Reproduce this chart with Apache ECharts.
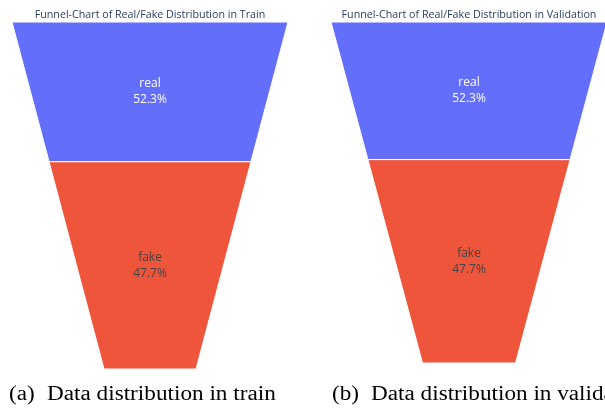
<!DOCTYPE html>
<html>
<head>
<meta charset="utf-8">
<script src="https://cdn.jsdelivr.net/npm/echarts@6/dist/echarts.min.js"></script>
<style>
html,body{margin:0;padding:0;background:#fff;}
#chart{width:605px;height:414px;}
</style>
</head>
<body>
<div id="chart"></div>
<script>
// ---- data ----
const categories = ['real', 'fake'];
const trainValues = [52.3, 47.7];
const validValues = [52.3, 47.7];
const chartTitles = ['Funnel-Chart of Real/Fake Distribution in Train',
                     'Funnel-Chart of Real/Fake Distribution in Validation'];
const captionTags = ['(a)', '(b)'];
const captionTexts = ['Data distribution in train', 'Data distribution in validation'];

// ---- layout / style ----
const colors = ['#636EFA', '#EF553B'];
const labelColors = ['#ffffff', '#444444'];
const geoms = [
  {cx: 150, top: 22, H: 347, W: 276, B: 92},
  {cx: 469, top: 22, H: 341, W: 276, B: 93}
];

// funnel-area geometry: each slice's area proportional to its value
function buildSeries(values, g) {
  const sum = values.reduce((a, b) => a + b, 0);
  const f = values[0] / sum;
  const k = (g.W - g.B) / g.H;
  const A = (g.W + g.B) / 2 * g.H;
  const h1 = (g.W - Math.sqrt(g.W * g.W - 2 * k * f * A)) / k;
  const w1 = g.W - k * h1;
  const r = (w1 - g.B) / (g.W - g.B);
  const vmin = (values[1] - r * values[0]) / (1 - r);
  const heights = [h1, g.H - h1];
  return {
    type: 'funnel',
    left: g.cx - g.W / 2,
    top: g.top,
    width: g.W,
    height: g.H,
    min: vmin,
    max: values[0],
    minSize: g.B,
    maxSize: g.W,
    sort: 'none',
    gap: 0,
    silent: true,
    label: {
      show: true,
      position: 'inside',
      fontFamily: 'Open Sans',
      fontSize: 12,
      lineHeight: 16,
      formatter: p => p.name + '\n' + p.percent.toFixed(1) + '%'
    },
    labelLine: {show: false},
    emphasis: {disabled: true},
    data: categories.map((c, i) => ({
      name: c,
      value: values[i],
      itemStyle: {color: colors[i], borderColor: '#ffffff', borderWidth: 1, height: heights[i]},
      label: {color: labelColors[i]}
    }))
  };
}

const chart = echarts.init(document.getElementById('chart'), null, {renderer: 'canvas'});
const graphics = [];
const capX = [[9, 47], [332, 371]];
const capFont = '20px "Liberation Serif"';
captionTags.forEach((t, i) => {
  graphics.push({type: 'text', x: capX[i][0], y: 395, scaleX: 1.16,
    style: {text: t, font: capFont, fill: '#000', verticalAlign: 'middle'}});
  graphics.push({type: 'text', x: capX[i][1], y: 395, scaleX: 1.16,
    style: {text: captionTexts[i], font: capFont, fill: '#000', verticalAlign: 'middle'}});
});

chart.setOption({
  animation: false,
  backgroundColor: '#ffffff',
  title: chartTitles.map((t, i) => ({
    text: t,
    left: geoms[i].cx,
    top: 9,
    textAlign: 'center',
    padding: 0,
    textStyle: {fontFamily: 'Open Sans', fontSize: 10.7, fontWeight: 'normal', color: '#2a3f5f', lineHeight: 12}
  })),
  series: [buildSeries(trainValues, geoms[0]), buildSeries(validValues, geoms[1])],
  graphic: graphics
});
</script>
</body>
</html>
